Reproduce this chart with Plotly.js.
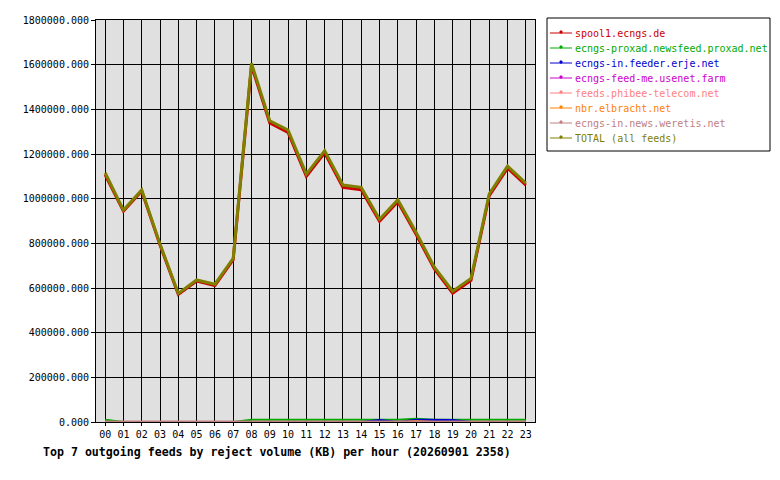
<!DOCTYPE html>
<html>
<head>
<meta charset="utf-8">
<script src="https://cdn.plot.ly/plotly-3.0.1.min.js"></script>
<style>
  body { margin: 0; background: #fff; }
  #chart { width: 780px; height: 480px; }
</style>
</head>
<body>
<div id="chart"></div>
<script>
// hours on the x axis
const hours = ['00','01','02','03','04','05','06','07','08','09','10','11',
               '12','13','14','15','16','17','18','19','20','21','22','23'];

const feeds = ['spool1.ecngs.de', 'ecngs-proxad.newsfeed.proxad.net', 'ecngs-in.feeder.erje.net',
               'ecngs-feed-me.usenet.farm', 'feeds.phibee-telecom.net', 'nbr.elbracht.net',
               'ecngs-in.news.weretis.net', 'TOTAL (all feeds)'];
const feedColors = ['#cc0000', '#00aa00', '#0000cc', '#cc00cc', '#ff8080', '#ff8000', '#c08080', '#808000'];

// reject volume (KB) per hour
const spool1   = [1107000, 944000, 1034000, 792000, 571000, 631000, 611000, 727000, 1595000, 1339000, 1297000, 1100000,
                  1205000, 1051000, 1040000, 899000, 986000, 841000, 685000, 577000, 634000, 1013000, 1137000, 1061000];
const proxad   = [10000, 0, 0, 0, 0, 0, 0, 0, 10000, 10000, 10000, 10000,
                  10000, 10000, 10000, 10000, 10000, 14000, 10000, 10000, 10000, 10000, 10000, 10000];
const erje     = [0, 0, 0, 0, 0, 0, 0, 0, 0, 0, 0, 0,
                  0, 0, 0, 9000, 0, 10000, 9000, 9000, 0, 0, 0, 0];
const feedme   = [0, 0, 0, 0, 0, 0, 0, 0, 0, 0, 0, 0,
                  0, 0, 0, 0, 0, 0, 0, 0, 0, 0, 0, 0];
const phibee   = [0, 0, 0, 0, 0, 0, 0, 0, 0, 0, 0, 0,
                  0, 0, 0, 0, 0, 0, 0, 0, 0, 0, 0, 0];
const elbracht = [0, 0, 0, 0, 0, 0, 3000, 3000, 0, 0, 0, 0,
                  0, 0, 3000, 0, 0, 4000, 0, 0, 0, 0, 0, 0];
const weretis  = [2000, 2000, 2000, 2000, 2000, 2000, 2000, 2000, 2000, 2000, 2000, 2000,
                  2000, 2000, 2000, 2000, 2000, 2000, 2000, 2000, 2000, 2000, 2000, 2000];
const total    = [1116000, 949000, 1039000, 797000, 576000, 636000, 617000, 733000, 1606000, 1349000, 1307000, 1110000,
                  1215000, 1061000, 1051000, 908000, 995000, 850000, 693000, 586000, 643000, 1022000, 1146000, 1070000];

const yTicks = [0, 200000, 400000, 600000, 800000, 1000000, 1200000, 1400000, 1600000, 1800000];

const series = [spool1, proxad, erje, feedme, phibee, elbracht, weretis, total];

const traces = series.map((vals, i) => ({
    x: hours,
    y: vals,
    type: 'scatter',
    mode: 'lines',
    name: feeds[i],
    line: { color: feedColors[i], width: (i === 0 || i === 7) ? 3 : 2 },
    hoverinfo: 'x+y'
}));

// plot box in pixels, used to place the hand-made legend
const plotL = 96, plotR = 535, plotT = 20, plotB = 422;
const px2x = px => (px - plotL) / (plotR - plotL);
const px2y = py => (plotB - py) / (plotB - plotT);

function mono() { return 'DejaVu Sans Mono, monospace'; }

const shapes = [{
    type: 'rect', xref: 'paper', yref: 'paper',
    x0: px2x(547), x1: px2x(770), y0: px2y(18), y1: px2y(151),
    fillcolor: '#ffffff', line: { color: '#000', width: 1 }, layer: 'above'
}];
const annotations = [];
feeds.forEach((name, i) => {
    const ly = 33 + 15 * i;
    shapes.push({
        type: 'line', xref: 'paper', yref: 'paper',
        x0: px2x(550), x1: px2x(572), y0: px2y(ly), y1: px2y(ly),
        line: { color: feedColors[i], width: 1 }, layer: 'above'
    });
    shapes.push({
        type: 'rect', xref: 'paper', yref: 'paper',
        x0: px2x(560), x1: px2x(562), y0: px2y(ly - 2), y1: px2y(ly),
        fillcolor: feedColors[i], line: { color: feedColors[i], width: 1 }, layer: 'above'
    });
    annotations.push({
        xref: 'paper', yref: 'paper', x: px2x(573), y: px2y(ly),
        xanchor: 'left', yanchor: 'middle', showarrow: false,
        text: name,
        font: { family: mono(), size: 10, color: feedColors[i] }
    });
});

const layout = {
    width: 780,
    height: 480,
    margin: { l: plotL, r: 780 - plotR, t: plotT, b: 480 - plotB, autoexpand: false },
    paper_bgcolor: '#ffffff',
    plot_bgcolor: '#e0e0e0',
    font: { family: mono(), size: 10, color: '#000' },
    showlegend: false,
    shapes: shapes,
    annotations: annotations,
    title: {
        text: '<b>Top 7 outgoing feeds by reject volume (KB) per hour (20260901 2358)</b>',
        font: { family: mono(), size: 11.6, color: '#000' },
        xref: 'container', x: 43 / 780, xanchor: 'left',
        yref: 'container', y: 1 - 452 / 480, yanchor: 'middle'
    },
    xaxis: {
        type: 'category',
        range: [-0.5, 23.5],
        showgrid: true,
        gridcolor: '#000',
        gridwidth: 1,
        showline: true,
        linecolor: '#000',
        linewidth: 1,
        mirror: true,
        ticks: 'outside',
        ticklen: 3,
        tickcolor: '#000',
        tickfont: { family: mono(), size: 10 },
        zeroline: false
    },
    yaxis: {
        range: [0, 1800000],
        tickvals: yTicks,
        tickformat: '.3f',
        showgrid: true,
        gridcolor: '#000',
        gridwidth: 1,
        showline: true,
        linecolor: '#000',
        linewidth: 1,
        mirror: true,
        ticks: 'outside',
        ticklen: 4,
        tickcolor: '#000',
        tickfont: { family: mono(), size: 10 },
        zeroline: false
    }
};

Plotly.newPlot('chart', traces, layout, { displayModeBar: false, staticPlot: true });
</script>
</body>
</html>
